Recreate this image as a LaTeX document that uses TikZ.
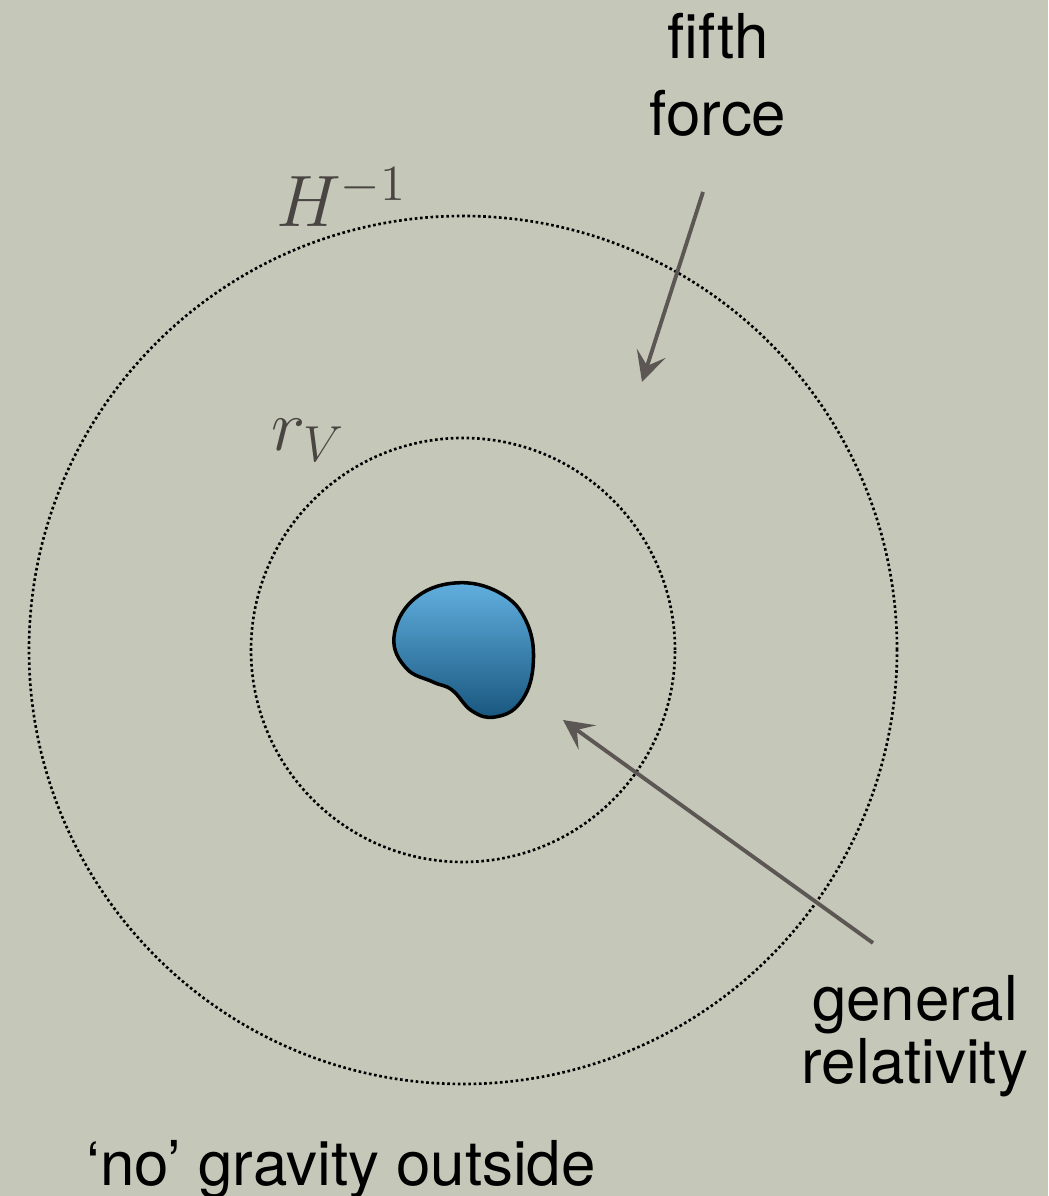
\documentclass[tikz,border=0pt]{standalone}
\usepackage{fontspec}
\setmainfont{TeX Gyre Heros}
\usepackage{tikz}
\usetikzlibrary{arrows.meta,calc,positioning}
\definecolor{board}{RGB}{197,200,184}
\definecolor{chalk}{RGB}{92,87,84}
\definecolor{ink}{RGB}{74,69,66}
\definecolor{blobtop}{RGB}{98,176,224}
\definecolor{blobbot}{RGB}{24,86,126}
\tikzset{lbl/.style={align=center,inner sep=0pt},
  mlbl/.style={text=ink,font=\fontsize{20}{24}\selectfont,inner sep=0pt},
  orbit/.style={line width=0.75pt,dash pattern=on 0.75pt off 0.75pt}}

\begin{document}
\begin{tikzpicture}[>={Stealth[length=0.3cm,width=0.3cm,inset=0.13cm]},line join=round]
\useasboundingbox (0,0) rectangle (10.48,11.96);
\fill[board] (0,0) rectangle (10.48,11.96);
% --- horizons
\coordinate (c) at (4.63,5.46);
\draw[orbit] (c) circle (4.34);
\draw[orbit] (c) circle (2.12);
\node[mlbl] (hubble) at (3.415,9.99) {$H^{-1}$};
\node[mlbl] (vain) at (3.08,7.56) {$r_V$};
% --- source body
\draw[line width=1pt,top color=blobtop,bottom color=blobbot]
  plot[smooth cycle,tension=0.7] coordinates{(4.55,6.13) (4.13,5.96) (3.94,5.59) (4.06,5.28) (4.33,5.14) (4.52,5.06) (4.72,4.85) (4.95,4.79) (5.20,4.93) (5.33,5.29) (5.27,5.73) (5.00,6.03)};
% --- labels and arrows
\node[lbl,font=\fontsize{17.6}{22}\selectfont] (fifth) at (7.18,11.21) {fifth\\force};
\node[lbl,font=\fontsize{17.6}{18}\selectfont] (gr) at (9.15,1.60) {general\\relativity};
\node[lbl,font=\fontsize{17.6}{18}\selectfont,anchor=base] (none) at (3.41,0.11) {`no' gravity outside};
\coordinate (ff0) at (7.03,10.04); \coordinate (ff1) at (6.42,8.14);
\coordinate (gr0) at (8.73,2.53); \coordinate (gr1) at (5.63,4.76);
\draw[->,chalk,line width=1.1pt] (ff0) -- (ff1);
\draw[->,chalk,line width=1.1pt] (gr0) -- (gr1);
\end{tikzpicture}
\end{document}
